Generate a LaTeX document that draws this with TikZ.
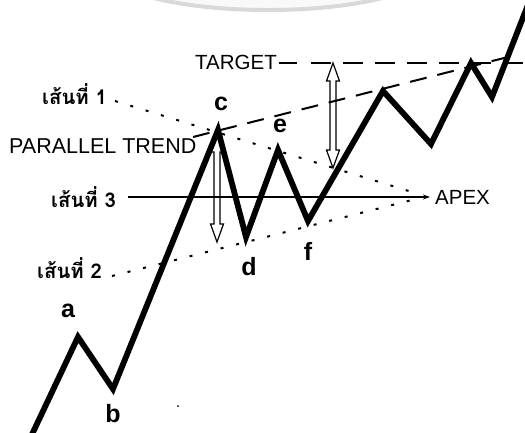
\documentclass[tikz,border=0pt]{standalone}
\usepackage{fontspec}
\setmainfont{Liberation Sans}
\newfontfamily\thaifont[Script=Thai]{Loma}
\usetikzlibrary{arrows.meta}
\newcommand{\hollowarrow}[3]{% x, ytop, ybottom
  \draw[hollow] (#1,#2) -- (#1+6.5,#2+18) -- (#1+3,#2+18) -- (#1+3,#3-18) -- (#1+6.5,#3-18)
    -- (#1,#3) -- (#1-6.5,#3-18) -- (#1-3,#3-18) -- (#1-3,#2+18) -- (#1-6.5,#2+18) -- cycle;}
\begin{document}
\begin{tikzpicture}[x=1pt,y=-1pt,
  zig/.style={line width=5.8pt,line join=miter,miter limit=20},
  dotline/.style={line width=2pt,dash pattern=on 3pt off 13pt},
  trendline/.style={line width=2pt,dash pattern=on 17pt off 11pt},
  targetline/.style={line width=2pt,dash pattern=on 20pt off 12pt},
  hollow/.style={line width=1.2pt,fill=white,line join=miter},
  lbl/.style={font=\fontsize{20.5}{22}\selectfont,inner sep=0pt},
  thai/.style={font=\thaifont\bfseries\fontsize{20.3}{22}\selectfont,inner sep=0pt},
  pt/.style={font=\bfseries\fontsize{25}{27}\selectfont,inner sep=0pt,anchor=base}]
\useasboundingbox (0,0) rectangle (525,432);
\begin{scope}
\clip (0,0) rectangle (525,432);
% faint watermark arc at top
\draw[line width=4pt,draw=gray!30,fill=gray!5] (268,-30) ellipse [x radius=160,y radius=40];
% labels
\node[lbl,anchor=base east] (target) at (277,69) {TARGET};
\node[thai,anchor=base west] (l1) at (42,104) {เส้นที่ 1};
\node[thai,anchor=base west] (l3) at (51,207) {เส้นที่ 3};
\node[thai,anchor=base west] (l2) at (37,278) {เส้นที่ 2};
\node[lbl,anchor=base west,font=\fontsize{21.5}{23}\selectfont] (par) at (9,153) {PARALLEL TREND};
\node[lbl,anchor=base west] (apex) at (435,204) {APEX};
\node[pt] (la) at (68,317) {a};
\node[pt] (lb) at (113,422) {b};
\node[pt] (lc) at (221,110) {c};
\node[pt] (ld) at (249,275) {d};
\node[pt] (le) at (280,132) {e};
\node[pt] (lf) at (308,260) {f};
% zigzag points
\coordinate (s0) at (27,445);
\coordinate (pa) at (78,337);
\coordinate (pb) at (113,389);
\coordinate (pc) at (218,130);
\coordinate (pd) at (246,237);
\coordinate (pe) at (278,150);
\coordinate (pf) at (308,221);
\coordinate (pg) at (383,91);
\coordinate (ph) at (431,144);
\coordinate (pi) at (471,63);
\coordinate (pj) at (492,97);
\coordinate (pk) at (533,-8);
% helper coordinates
\coordinate (d1s) at (115,101);
\coordinate (d1e) at (412,192);
\coordinate (d2s) at (112,276);
\coordinate (d2e) at (412,200);
\coordinate (trs) at (193,137);
\coordinate (tre) at (512,56);
\coordinate (tge) at (525,63);
\coordinate (h3s) at (128,197);
% hollow arrows
\hollowarrow{333}{63}{168}
\hollowarrow{217}{134}{242}
% dotted triangle
\draw[dotline] (d1s) -- (d1e);
\draw[dotline] (d2s) -- (d2e);
% line 3 to apex
\draw[line width=1.3pt,-{Stealth[length=7pt,width=5pt]}] (h3s) -- ([xshift=-5pt]apex.west |- h3s);
% parallel trend
\draw[trendline] (trs) -- (tre);
% target line
\draw[line width=2pt] ([xshift=2pt]target.east |- tge) -- ++(18,0) coordinate (tgs);
\draw[targetline] ([xshift=14pt]tgs) -- (tge);
% zigzag
\draw[zig] (s0) -- (pa) -- (pb) -- (pc) -- (pd) -- (pe) -- (pf) -- (pg) -- (ph) -- (pi) -- (pj) -- (pk);
% speck
\fill (178,406) circle (1pt);
\end{scope}
\end{tikzpicture}
\end{document}
